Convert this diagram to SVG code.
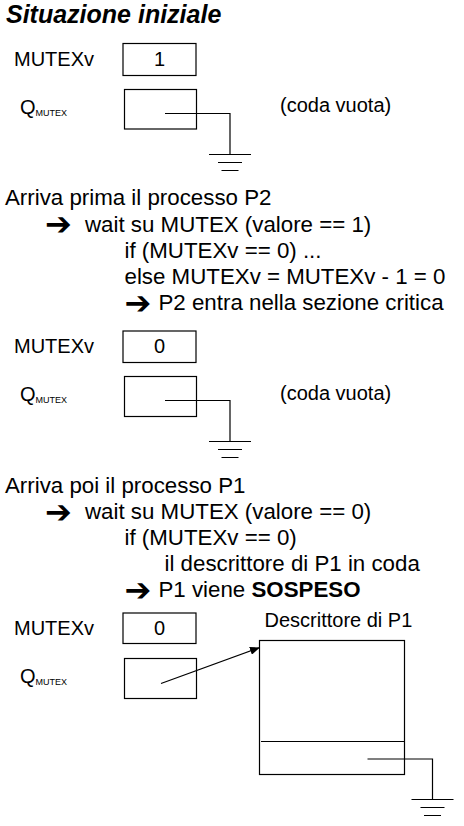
<svg xmlns="http://www.w3.org/2000/svg" width="464" height="826" viewBox="0 0 464 826">
<style>
text{font-family:"Liberation Sans",Arial,sans-serif;fill:#000}
.t{font-size:22.3px}
.l{font-size:20px}
.s{font-size:9px}
.ar{font-family:"DejaVu Sans",sans-serif;font-size:32px;font-weight:bold}
.b{fill:#fff;stroke:#000;stroke-width:1.2}
.w{fill:none;stroke:#000;stroke-width:1.2}
</style>
<defs>
<marker id="ah" markerWidth="10" markerHeight="8" refX="9" refY="4" orient="auto" markerUnits="userSpaceOnUse">
<path d="M0,0 L10,4 L0,8 z" fill="#000"/>
</marker>
<g id="gnd">
<path d="M-21,0 H21 M-12,8 H12 M-8.5,16 H8.5" class="w"/>
</g>
</defs>
<rect width="464" height="826" fill="#fff"/>

<g id="title"><text x="6" y="23" style="font-size:25px;font-weight:bold;font-style:italic">Situazione iniziale</text></g>

<g id="s1">
<text class="l" x="14" y="66">MUTEXv</text>
<g id="s1-mutexv"><rect class="b" x="123" y="43.5" width="73" height="32"/><text class="l" x="159.5" y="66" text-anchor="middle">1</text></g>
<text class="l" x="20" y="113.5">Q<tspan class="s" dy="2">MUTEX</tspan></text>
<g id="s1-q"><rect class="b" x="124.5" y="89.5" width="72" height="39.5"/></g>
<text class="l" x="280" y="111.5">(coda vuota)</text>
<use href="#gnd" x="230" y="154.5"/>
</g>

<g id="step2">
<text class="t" x="5" y="205">Arriva prima il processo P2</text>
<text class="ar" x="45" y="235">➔</text>
<text class="t" x="85" y="231.5">wait su MUTEX (valore == 1)</text>
<text class="t" x="124.5" y="257.5">if (MUTEXv == 0) ...</text>
<text class="t" x="124.5" y="283.5">else MUTEXv = MUTEXv - 1 = 0</text>
<text class="ar" x="124.5" y="313.5">➔</text>
<text class="t" x="158.5" y="310">P2 entra nella sezione critica</text>
</g>

<g id="s2">
<text class="l" x="14" y="353">MUTEXv</text>
<g id="s2-mutexv"><rect class="b" x="123" y="331" width="73" height="31.5"/><text class="l" x="159.5" y="353" text-anchor="middle">0</text></g>
<text class="l" x="20" y="401">Q<tspan class="s" dy="2">MUTEX</tspan></text>
<g id="s2-q"><rect class="b" x="124.5" y="376.5" width="72" height="40"/></g>
<text class="l" x="280" y="400">(coda vuota)</text>
<use href="#gnd" x="230" y="441.5"/>
</g>

<g id="step3">
<text class="t" x="5" y="492.5">Arriva poi il processo P1</text>
<text class="ar" x="45" y="522.5">➔</text>
<text class="t" x="85" y="519">wait su MUTEX (valore == 0)</text>
<text class="t" x="124.5" y="545">if (MUTEXv == 0)</text>
<text class="t" x="164.5" y="571">il descrittore di P1 in coda</text>
<text class="ar" x="124.5" y="601">➔</text>
<text class="t" x="158.5" y="597">P1 viene <tspan font-weight="bold">SOSPESO</tspan></text>
</g>

<g id="s3">
<text class="l" x="14" y="635">MUTEXv</text>
<g id="s3-mutexv"><rect class="b" x="123" y="613" width="73" height="30.5"/><text class="l" x="159.5" y="635" text-anchor="middle">0</text></g>
<text class="l" x="20" y="683">Q<tspan class="s" dy="2">MUTEX</tspan></text>
<g id="s3-q"><rect class="b" x="124.5" y="658.5" width="72" height="40"/></g>
<g id="desc">
<text class="l" x="264.5" y="627">Descrittore di P1</text>
<rect class="b" x="259.5" y="640.5" width="145" height="134"/>
<line class="w" x1="261" y1="741.5" x2="404.5" y2="741.5"/>
</g>
<use href="#gnd" x="432.5" y="799.5"/>
</g>

<g id="connectors">
<path class="w" d="M165,113.5 H230 V154.5"/>
<path class="w" d="M165,400.5 H230 V441.5"/>
<line class="w" x1="161" y1="683.5" x2="259" y2="647.8" marker-end="url(#ah)"/>
<path class="w" d="M367.5,759 H432.5 V799.5"/>
</g>
</svg>
